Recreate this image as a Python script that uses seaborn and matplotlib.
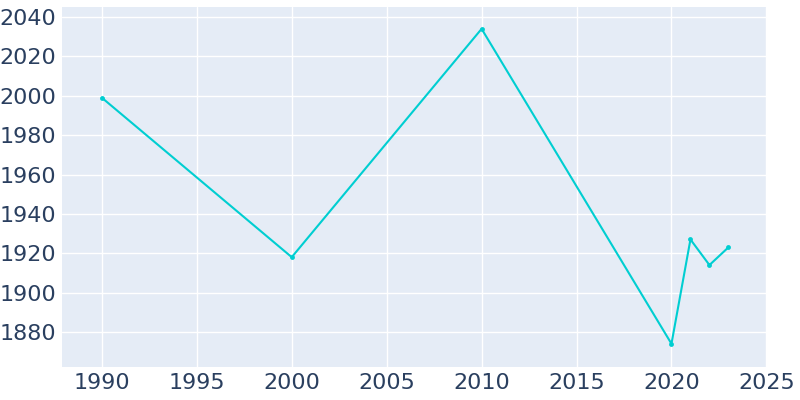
import matplotlib
matplotlib.use("Agg")
import matplotlib.pyplot as plt
import seaborn as sns
import pandas as pd

# Population by year
years = [1990, 2000, 2010, 2020, 2021, 2022, 2023]
population = [1999, 1918, 2034, 1874, 1927, 1914, 1923]

df = pd.DataFrame({"year": years, "population": population})

sns.set_style("darkgrid", {"axes.facecolor": "#E5ECF6", "grid.color": "white"})
plt.rcParams["font.family"] = ["DejaVu Sans"]

fig = plt.figure(figsize=(8, 4), dpi=100)
ax = fig.add_axes([0.0775, 0.0825, 0.8805, 0.9])

sns.lineplot(data=df, x="year", y="population", ax=ax, color="#00CED1",
             linewidth=1.5, marker="o", markersize=3.5, markeredgewidth=0)

ax.set_xlim(1987.9, 2025.0)
ax.set_ylim(1862.2, 2045.1)
ax.set_xticks(range(1990, 2026, 5))
ax.set_yticks(range(1880, 2041, 20))
ax.tick_params(axis="both", labelsize=16, colors="#2a3f5f", length=0, pad=4)
ax.set_xlabel("")
ax.set_ylabel("")
for s in ax.spines.values():
    s.set_visible(False)
ax.grid(True, color="white", linewidth=1)

fig.savefig("out.png", dpi=100)
